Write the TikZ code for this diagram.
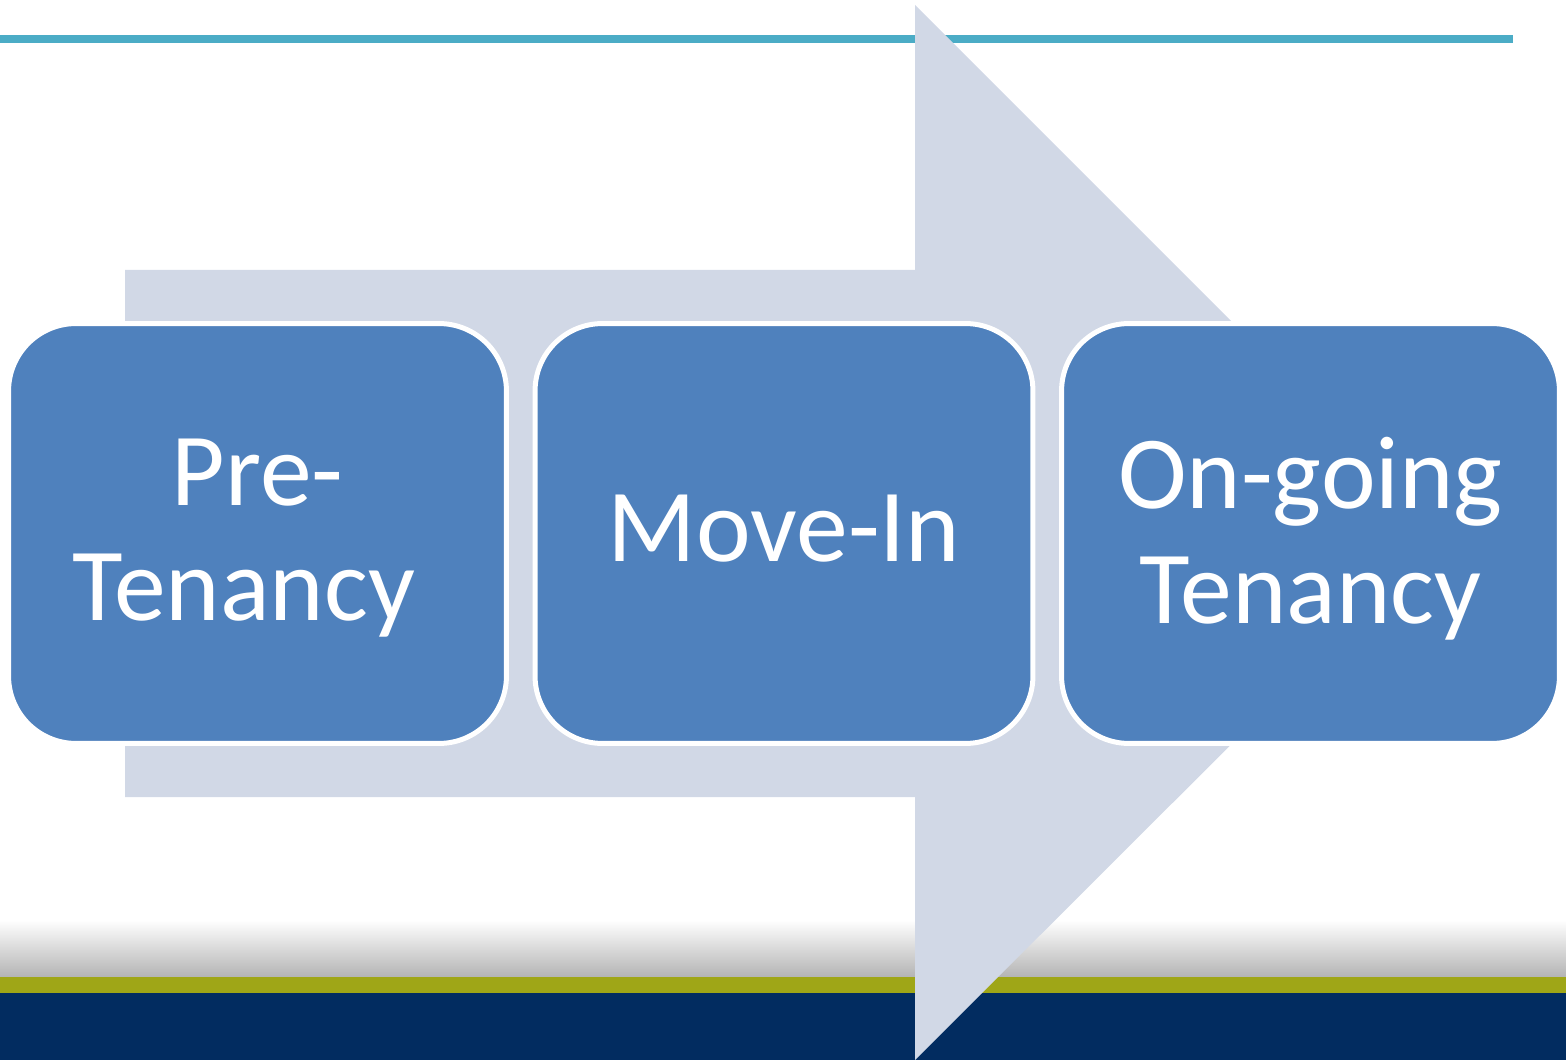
\documentclass[tikz,border=0pt]{standalone}
\usepackage{fontspec}
\setmainfont{Carlito}
\definecolor{boxblue}{HTML}{4F81BD}
\definecolor{arrowgray}{HTML}{D1D8E6}
\definecolor{topteal}{HTML}{4BACC6}
\definecolor{bandolive}{HTML}{9FA617}
\definecolor{bandnavy}{HTML}{022C60}
\begin{document}
\begin{tikzpicture}[x=0.02cm,y=-0.02cm]
		\tikzset{stage/.style = {shape=rectangle, draw=white, line width=0.1cm, fill=boxblue, rounded corners=1.35cm,
			minimum width=9.96cm, minimum height=8.4cm}}
		\tikzset{stagetext/.style = {text=white, align=center, inner sep=0pt,
			font=\fontsize{59pt}{65.5pt}\selectfont}}

		\useasboundingbox (0,0) rectangle (1566,1060);

		% bottom bands
		\shade[top color=white, bottom color=black!30] (0,920) rectangle (1566,978);
		\fill[bandolive] (0,977) rectangle (1566,994);
		\fill[bandnavy] (0,993) rectangle (1566,1060);

		% top line
		\fill[topteal] (0,35) rectangle (1513,43);

		% big arrow
		\fill[arrowgray] (125,270) -- (915,270) -- (915,5) -- (1443,533) -- (915,1060) -- (915,797) -- (125,797) -- cycle;

		\node[stage] (P_1) at (257.5,533.5) {};
		\node[stage] (P_2) at (784,533.5) {};
		\node[stage] (P_3) at (1310.5,533.5) {};

		\node[stagetext, yshift=-0.1cm] (T_1) at (P_1) {Pre-\\Tenancy\kern0.26em};
		\node[stagetext, yshift=0.1cm] (T_2) at (P_2) {Move-In};
		\node[stagetext, yshift=-0.1cm] (T_3) at (P_3) {On-going\\Tenancy};

	\end{tikzpicture}
\end{document}
